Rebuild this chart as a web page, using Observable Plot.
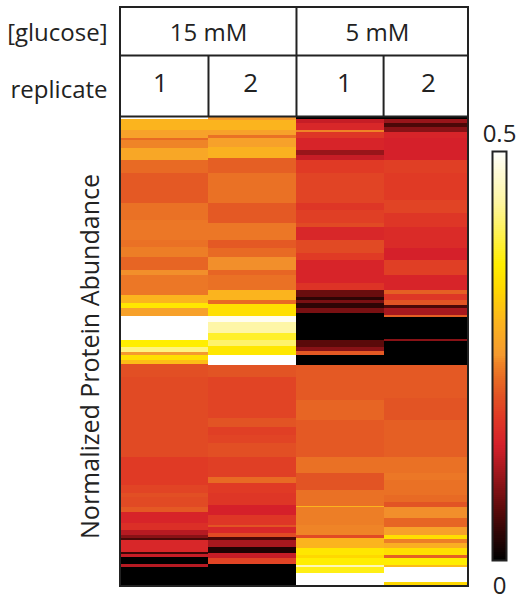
<!DOCTYPE html>
<html>
<head>
<meta charset="utf-8">
<style>
html,body{margin:0;padding:0;background:#fff;}
#chart{position:relative;width:521px;height:601px;}
#chart svg{position:absolute;left:0;top:0;background:transparent;}
</style>
<script src="https://cdn.jsdelivr.net/npm/d3@7"></script>
<script src="https://cdn.jsdelivr.net/npm/@observablehq/plot@0.6"></script>
</head>
<body>
<div id="chart"></div>
<script>
const glucoseLevels = ["15 mM", "5 mM"];
const replicates = ["1", "2", "1", "2"];
const sampleEdges = [0, 1, 2, 3, 3.955];
const rowCount = 470;

// Each sample: last protein row of each stripe, and the abundance of that stripe
const rowEnds15a = [3,14,22,24,32,44,57,87,104,124,131,141,154,159,179,187,192,200,224,231,236,239,244,248,261,341,369,377,381,391,396,407,414,419,422,424,436,438,441,448,451,470];
const values15a = [.5,.29,.26,.22,.24,.27,.22,.205,.225,.23,.225,.235,.215,.245,.23,.29,.35,.26,.5,.36,.42,.25,.34,.30,.195,.19,.175,.185,.195,.19,.205,.145,.16,.12,.09,.05,.15,.04,.13,0,.12,0];
const rowEnds15b = [4,14,19,22,31,42,57,87,107,124,132,141,154,159,174,184,188,200,206,217,224,230,239,249,261,302,311,319,327,341,361,367,377,389,399,409,411,417,421,424,431,437,442,448,470];
const values15b = [.25,.29,.26,.225,.26,.285,.21,.225,.205,.23,.205,.22,.245,.215,.225,.29,.22,.34,.49,.44,.38,.41,.35,.5,.20,.185,.20,.18,.185,.195,.18,.22,.175,.17,.14,.17,.2,.15,.19,.05,.11,.02,.13,.185,0];
const rowEnds5a = [3,7,14,16,22,34,39,44,57,87,94,107,111,124,137,144,167,174,181,184,187,192,197,224,231,235,239,249,284,304,341,357,374,390,391,409,419,422,432,439,442,449,451,457,470];
const values5a = [0,.13,.15,.24,.17,.145,.10,.13,.175,.185,.17,.18,.19,.15,.19,.175,.145,.165,.07,.03,.08,.03,.08,0,.06,.09,.205,0,.205,.215,.205,.225,.2,.225,.29,.235,.24,.19,.29,.35,.33,.36,.45,.37,.5];
const rowEnds5b = [3,7,11,16,22,44,57,84,97,111,132,144,159,174,178,184,189,192,199,201,223,225,249,282,304,341,357,364,379,386,391,402,411,419,423,427,432,439,442,449,451,466,470];
const values5b = [0,.10,.05,.09,.145,.14,.18,.175,.185,.17,.155,.14,.18,.145,.21,.17,.2,.05,.11,.21,0,.09,0,.205,.20,.21,.225,.23,.225,.22,.20,.245,.215,.26,.34,.235,.28,.34,.21,.36,.30,.5,.33];

const colorStops = [0, .06, .14, .175, .20, .22, .24, .25, .29, .33, .36, .435, .5];
const colorRange = ["#000000","#5a0a0a","#d5202a","#e03a25","#e25424","#e86a24","#ef8427","#f59a2e","#fbb41e","#ffd800","#ffee00","#fef5a0","#ffffff"];
const barLevels = d3.range(0, 0.5, 0.0025);

const ink = "#222";
const font = "'Open Sans', sans-serif";
const colorOptions = {type: "linear", domain: colorStops, range: colorRange};

const samples = [[rowEnds15a, values15a], [rowEnds15b, values15b], [rowEnds5a, values5a], [rowEnds5b, values5b]];
const stripes = samples.flatMap(([ends, values], s) => ends.map((end, i) => ({
  x1: sampleEdges[s], x2: sampleEdges[s + 1], y1: i ? ends[i - 1] : 0, y2: end, value: values[i]
})));

// header layout in data units (sample columns and protein rows; rows above the map are negative)
const headerTop = -109, headerMid = -61, headerBottom = 0;
const replicateX = [0.455, 1.48, 2.545, 3.5];
const glucoseX = [1, 2.92];
const replicateRows = replicates.map((r, i) => ({r, x: replicateX[i]}));
const glucoseRows = glucoseLevels.map((g, i) => ({g, x: glucoseX[i]}));

const main = Plot.plot({
  width: 521, height: 601, margin: 0,
  style: {background: "transparent"},
  x: {type: "linear", domain: [0, 3.955], range: [120, 468], axis: null},
  y: {type: "linear", domain: [0, rowCount], range: [116, 586], axis: null},
  color: colorOptions,
  marks: [
    Plot.rect(stripes, {x1: "x1", x2: "x2", y1: "y1", y2: "y2", fill: "value", shapeRendering: "crispEdges"}),
    Plot.rect([0], {x1: 0, x2: 3.955, y1: headerTop, y2: rowCount, fill: "none", stroke: ink, strokeWidth: 2}),
    Plot.ruleY([headerMid, headerBottom], {x1: 0, x2: 3.955, stroke: ink, strokeWidth: 2}),
    Plot.ruleX([2], {y1: headerTop, y2: headerBottom, stroke: ink, strokeWidth: 2}),
    Plot.ruleX([1, 2.99], {y1: headerMid, y2: headerBottom, stroke: ink, strokeWidth: 2}),
    Plot.text(glucoseRows, {x: "x", y: -83, text: "g", fontSize: 24, fontFamily: font, fill: ink}),
    Plot.text(replicateRows, {x: "x", y: -33, text: "r", fontSize: 26, fontFamily: font, fill: ink}),
    Plot.text(["[glucose]"], {x: 0, y: -83, dx: -13, textAnchor: "end", fontSize: 24, fontFamily: font, fill: ink}),
    Plot.text(["replicate"], {x: 0, y: -26, dx: -13, textAnchor: "end", fontSize: 24, fontFamily: font, fill: ink}),
    Plot.text(["Normalized Protein Abundance"], {x: 0, y: 240, dx: -30, rotate: -90, fontSize: 25, fontFamily: font, fill: ink})
  ]
});

const bar = Plot.plot({
  width: 521, height: 601,
  marginLeft: 492, marginRight: 15, marginTop: 151, marginBottom: 41,
  style: {background: "transparent"},
  x: {axis: null, domain: [0, 1]},
  y: {type: "linear", domain: [0, 0.5], axis: null},
  color: colorOptions,
  marks: [
    Plot.rect(barLevels, {x1: 0, x2: 1, y1: d => d, y2: d => d + 0.0025, fill: d => d, shapeRendering: "crispEdges"}),
    Plot.frame({stroke: ink, strokeWidth: 2}),
    Plot.text([0.5], {x: 0.5, y: d => d, dy: -17, text: d => "0.5", fontSize: 24, fontFamily: font, fill: ink}),
    Plot.text([0], {x: 0.5, y: d => d, dy: 26, text: d => "0", fontSize: 24, fontFamily: font, fill: ink})
  ]
});

const chart = document.getElementById("chart");
chart.append(main, bar);
</script>
</body>
</html>
